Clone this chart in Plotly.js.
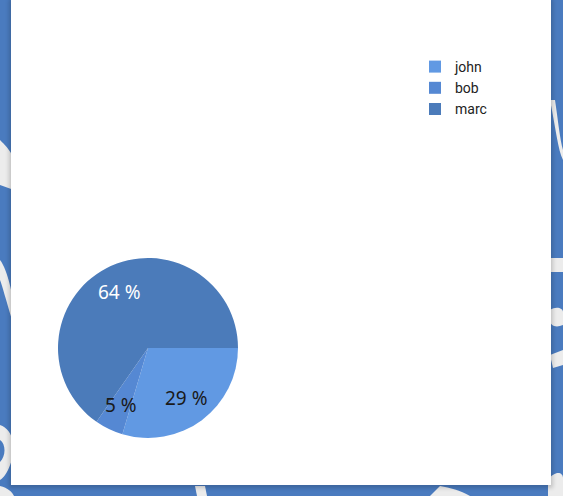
<!DOCTYPE html>
<html>
<head>
<meta charset="utf-8">
<script src="https://cdn.plot.ly/plotly-3.0.1.min.js"></script>
<style>
  html, body { margin: 0; padding: 0; width: 563px; height: 496px; overflow: hidden; background: #4a7bbf; }
  #bg { position: absolute; left: 0; top: 0; }
  #card { position: absolute; left: 11px; top: 0; width: 540px; height: 485px; background: #fff;
          box-shadow: 0 1px 4px 2px rgba(0,0,0,0.18); }
  #chart { width: 540px; height: 485px; }
</style>
</head>
<body>
<svg id="bg" width="563" height="496">
  <path d="M0,140 C10,150 20,160 14,190 L0,185 Z" fill="#ececec"/>
  <path d="M0,260 C8,270 14,300 16,320 L12,320 C6,300 2,285 0,280 Z" fill="#ececec"/>
  <path d="M0,425 C14,430 18,450 8,470 C4,478 0,480 0,480 L0,462 C6,456 6,444 0,440 Z" fill="#ececec"/>
  <path d="M550,100 C556,130 558,150 563,160 L563,150 C560,140 558,120 555,100 Z" fill="#ececec"/>
  <path d="M550,258 L563,258 L563,272 L550,272 Z" fill="#ececec"/>
  <path d="M550,310 C556,306 563,308 563,312 L563,325 C556,328 550,326 550,320 Z" fill="#ececec"/>
  <path d="M550,355 L563,350 L563,365 L553,368 Z" fill="#ececec"/>
  <path d="M548,480 C555,470 563,472 563,478 L563,496 L548,496 Z" fill="#ececec"/>
  <path d="M195,486 L205,486 L207,496 L197,496 Z" fill="#ececec"/>
  <path d="M440,486 C450,488 460,490 470,496 L430,496 Z" fill="#ececec"/>
  <path d="M0,486 C8,488 12,492 14,496 L0,496 Z" fill="#ececec"/>
</svg>
<div id="card"><div id="chart"></div></div>
<script>
  var labels = ['john', 'bob', 'marc'];
  var values = [29, 5, 64];
  var colors = ['#6199e3', '#5588d3', '#4b7bba'];
  var textColors = ['#1a1a1a', '#1a1a1a', '#ffffff'];

  var W = 540, H = 485;
  var dom = { x: [47 / W, 227 / W], y: [1 - 438 / H, 1 - 258 / H] };

  var total = values.reduce(function (a, b) { return a + b; }, 0);

  // slice labels at 0.7 radius on each slice's mid angle (clockwise from 3 o'clock)
  var cxPx = (dom.x[0] + dom.x[1]) / 2 * W;
  var cyPx = (1 - (dom.y[0] + dom.y[1]) / 2) * H;
  var Rpx = Math.min((dom.x[1] - dom.x[0]) * W, (dom.y[1] - dom.y[0]) * H) / 2;
  var annotations = [];
  var acc = 0;
  values.forEach(function (v, i) {
    var mid = (acc + v / 2) / total * 2 * Math.PI;
    acc += v;
    var px = cxPx + 0.7 * Rpx * Math.cos(mid);
    var py = cyPx + 0.7 * Rpx * Math.sin(mid);
    annotations.push({
      xref: 'paper', yref: 'paper', x: px / W, y: 1 - py / H,
      xanchor: 'center', yanchor: 'middle', showarrow: false,
      text: v + ' %',
      font: { family: 'Noto Sans, sans-serif', size: 19, color: textColors[i] }
    });
  });

  var trace = {
    type: 'pie',
    labels: labels,
    values: values,
    textinfo: 'none',
    sort: false,
    direction: 'clockwise',
    rotation: 90,
    marker: { colors: colors, line: { width: 0 } },
    domain: dom,
    hoverinfo: 'label+percent'
  };

  var layout = {
    width: W,
    height: H,
    margin: { l: 0, r: 0, t: 0, b: 0 },
    paper_bgcolor: '#ffffff',
    showlegend: true,
    annotations: annotations,
    legend: {
      x: 404 / W, y: 1 - 51 / H, xanchor: 'left', yanchor: 'top',
      font: { family: 'Roboto, sans-serif', size: 14, color: '#222222' },
      tracegroupgap: 0,
      bgcolor: 'rgba(0,0,0,0)'
    }
  };

  Plotly.newPlot('chart', [trace], layout, { displayModeBar: false, staticPlot: true });
</script>
</body>
</html>
